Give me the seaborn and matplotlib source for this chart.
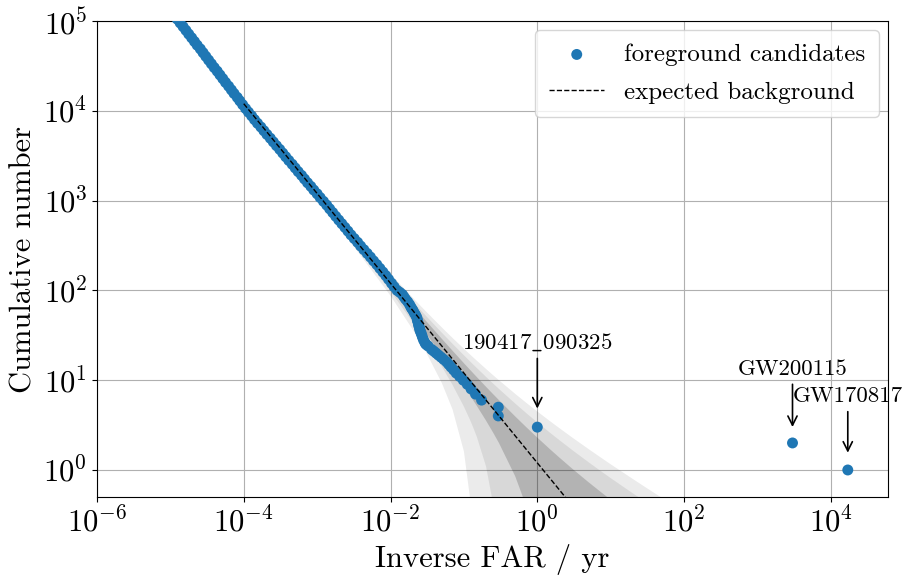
import numpy as np
import matplotlib
matplotlib.use("Agg")
import matplotlib.pyplot as plt
import seaborn as sns

# cumulative number of foreground candidates and their inverse FAR (yr)
fg_count = [1, 2, 3, 4, 5, 6, 7, 8, 9, 10, 11, 12, 13, 14, 15, 16, 17, 18, 19, 20,
            21, 22, 24, 25, 26, 28, 30, 32, 34, 36, 38, 40, 42, 45, 47, 50, 53, 56, 60, 63,
            66, 70, 75, 80, 85, 90, 95, 100,
            110, 120, 133, 146, 160, 176, 194, 213, 235, 258, 284, 312, 343, 378, 415, 457,
            503, 553, 608, 669, 736, 810, 891, 980, 1080, 1190, 1310, 1440, 1580, 1740, 1910,
            2100, 2310, 2540, 2800, 3080, 3380, 3720, 4090, 4500, 4950, 5450, 6000, 6600,
            7260, 7980, 8780, 9660, 10600, 11700, 12900, 14100, 15600, 17100, 18800, 20700,
            22800, 25100, 27600, 30300, 33400, 36700, 40400, 44400, 48900, 53800, 59100,
            65000, 71500, 78700, 86600, 95200, 105000, 115000, 127000, 140000]
fg_ifar = [1.7e4, 3.0e3, 1.0, 0.294, 0.294, 0.174, 0.144, 0.125, 0.111, 0.098, 0.0875, 0.0785,
           0.0724, 0.0667, 0.0621, 0.058, 0.0531, 0.0489, 0.0451, 0.0419,
           0.039, 0.0363, 0.0325, 0.0305, 0.0295, 0.0282, 0.0273, 0.0266, 0.0259, 0.0252,
           0.0248, 0.0244, 0.0240, 0.0235, 0.0232, 0.0228, 0.0220, 0.0211, 0.0202, 0.0194,
           0.0188, 0.0181, 0.0171, 0.016, 0.0152, 0.0145, 0.0134, 0.0123,
           0.01118, 0.01033, 0.0094, 0.00863, 0.00788, 0.00716, 0.0065, 0.00587, 0.00532,
           0.00481, 0.00433, 0.00391, 0.00356, 0.0032, 0.00289, 0.00263, 0.00239, 0.00217,
           0.00197, 0.00179, 0.00163, 0.00148, 0.00135, 0.00122, 0.0011, 0.001, 0.0009,
           0.00082, 0.00074, 0.000672, 0.000613, 0.000552, 0.000502, 0.000457, 0.000411,
           0.000373, 0.00034, 0.000309, 0.000279, 0.000253, 0.00023, 0.000207, 0.000188,
           0.000171, 0.000154, 0.00014, 0.000128, 0.000116, 0.000106, 9.66e-5, 8.84e-5,
           8.16e-5, 7.37e-5, 6.78e-5, 6.22e-5, 5.65e-5, 5.18e-5, 4.74e-5, 4.35e-5, 3.96e-5,
           3.62e-5, 3.32e-5, 3.04e-5, 2.79e-5, 2.56e-5, 2.32e-5, 2.13e-5, 1.95e-5, 1.78e-5,
           1.63e-5, 1.49e-5, 1.36e-5, 1.24e-5, 1.14e-5, 1.04e-5, 9.5e-6]

# expected background
bg_ifar = [1e-4, 100]
bg_count = [1.2e4, 0.012]

# poisson bands around the background (1, 2, 3 sigma)
band_ifar = [1e-4, 1e-3, 1e-2, 0.02, 0.03, 0.05, 0.07, 0.1, 0.12, 0.13, 0.15, 0.2, 0.25, 0.3,
             0.5, 0.7, 1, 1.5, 2, 3, 5, 7, 10, 20, 30, 50, 100]
lo_1 = [11890, 1165, 109.0, 52.25, 33.68, 19.10, 13.00, 8.54, 6.838, 6.193, 5.17, 3.55, 2.609, 2.0,
        0.851, 0.405, 0.105, 0, 0, 0, 0, 0, 0, 0, 0, 0, 0]
hi_1 = [12110, 1235, 131.0, 67.75, 46.32, 28.90, 21.28, 15.46, 13.16, 12.27, 10.83, 8.45, 6.991, 6.0,
        3.949, 3.023, 2.295, 1.694, 1.375, 1.032, 0.730, 0.586, 0.466, 0.305, 0.240, 0.179, 0.1215]
lo_2 = [11781, 1130.7, 98.1, 44.51, 27.35, 14.20, 8.86, 5.07, 3.675, 3.155, 2.34, 1.10, 0.418, 0,
        0, 0, 0, 0, 0, 0, 0, 0, 0, 0, 0, 0, 0]
hi_2 = [12219, 1269.3, 141.9, 75.49, 52.65, 33.80, 25.42, 18.93, 16.33, 15.31, 13.66, 10.90, 9.18, 8.0,
        5.498, 4.332, 3.390, 2.588, 2.150, 1.664, 1.220, 0.999, 0.812, 0.550, 0.440, 0.334, 0.231]
lo_3 = [11671, 1096, 87.15, 36.76, 21.03, 9.30, 4.72, 1.61, 0.513, 0.117, 0, 0, 0, 0,
        0, 0, 0, 0, 0, 0, 0, 0, 0, 0, 0, 0, 0]
hi_3 = [12329, 1304, 152.85, 83.24, 58.97, 38.70, 29.56, 22.39, 19.49, 18.35, 16.49, 13.35, 11.37, 10.0,
        7.047, 5.641, 4.485, 3.483, 2.925, 2.297, 1.710, 1.413, 1.158, 0.795, 0.640, 0.489, 0.3405]

# labelled events
ev_names = ['190417_090325', 'GW200115', 'GW170817']
ev_ifar = [1.0, 3.0e3, 1.7e4]
ev_arrow_tip = [4.5, 2.8, 1.45]
ev_text_y = [22.5, 11.5, 5.7]

plt.rcParams['font.family'] = 'serif'
plt.rcParams['font.serif'] = ['cmr10']
plt.rcParams['mathtext.fontset'] = 'cm'
plt.rcParams['axes.formatter.use_mathtext'] = True

fig, ax = plt.subplots(figsize=(9.13, 5.85), dpi=100)
fig.subplots_adjust(left=0.1062, right=0.9726, top=0.9641, bottom=0.1504)
ax.set_xscale('log')
ax.set_yscale('log')

#bands, outermost first
for lo, hi, a in [(lo_3, hi_3, 0.08), (lo_2, hi_2, 0.08), (lo_1, hi_1, 0.17)]:
    ax.fill_between(band_ifar, lo, hi, color='k', alpha=a, linewidth=0, zorder=1)

sns.scatterplot(x=fg_ifar, y=fg_count, ax=ax, s=62, color='#1f77b4', edgecolor='none',
                linewidth=0, label='foreground candidates', zorder=3)
sns.lineplot(x=bg_ifar, y=bg_count, ax=ax, color='k', linestyle='--', linewidth=1,
             label='expected background', zorder=4)

lbl = {'190417_090325': r'190417$\_$090325'}
for name, xi, tip, ty in zip(ev_names, ev_ifar, ev_arrow_tip, ev_text_y):
    ax.annotate(lbl.get(name, name), xy=(xi, tip), xytext=(xi, ty),
                ha='center', va='baseline', fontsize=16.5,
                arrowprops=dict(arrowstyle='->', color='k', lw=1.2))

ax.set_xlim(1e-6, 6e4)
ax.set_ylim(0.5, 1e5)
ax.set_xticks([1e-6, 1e-4, 1e-2, 1e0, 1e2, 1e4])
ax.set_yticks([1e0, 1e1, 1e2, 1e3, 1e4, 1e5])
ax.xaxis.set_minor_locator(matplotlib.ticker.NullLocator())
ax.yaxis.set_minor_locator(matplotlib.ticker.NullLocator())
ax.tick_params(labelsize=22)
ax.grid(True, which='major', color='#b0b0b0', linewidth=0.8)
ax.set_axisbelow(True)
ax.set_xlabel('Inverse FAR / yr', fontsize=22)
ax.set_ylabel('Cumulative number', fontsize=22)
ax.legend(loc='upper right', fontsize=18, borderpad=0.55, borderaxespad=0.35,
          handlelength=2.2, labelspacing=0.6)

fig.savefig('out.png', dpi=100)
